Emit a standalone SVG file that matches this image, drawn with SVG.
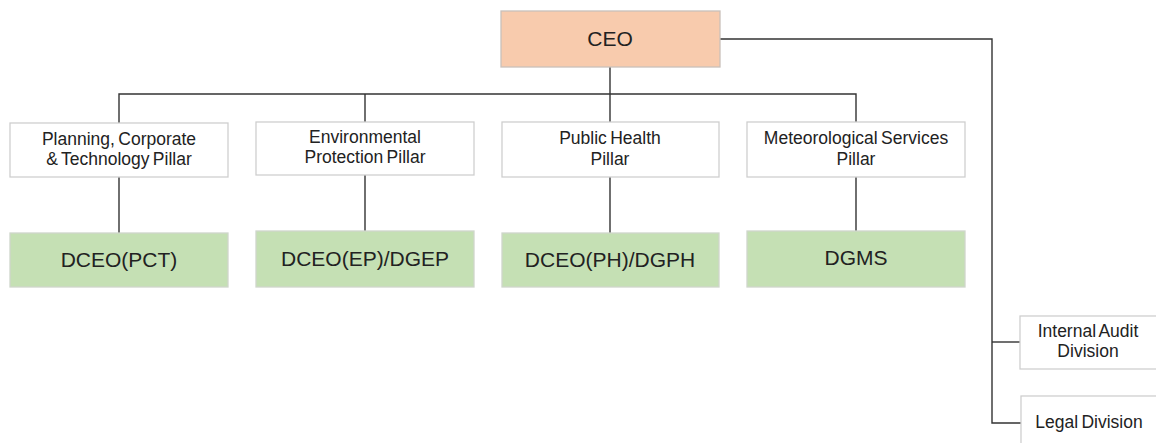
<svg xmlns="http://www.w3.org/2000/svg" width="1156" height="443" viewBox="0 0 1156 443">
  <style>
    .box { fill: #ffffff; stroke: #cfcfcf; stroke-width: 1.3; }
    .ceo { fill: #f8cbad; stroke: #c9c0ba; stroke-width: 1.3; }
    .dep { fill: #c5e0b4; stroke: #cfd6cb; stroke-width: 1.3; }
    .t { font-family: "Liberation Sans", Arial, sans-serif; fill: #222222; text-anchor: middle; }
    .sm { font-size: 17.5px; word-spacing: -1.5px; }
    .lg { font-size: 21px; }
    .wire { fill: none; stroke: #333333; stroke-width: 1.4; }
  </style>

  <!-- connectors -->
  <g id="connectors" class="wire">
    <path d="M610 67 V122"/>
    <path d="M119 123 V94 H856 V122"/>
    <path d="M365 94 V122"/>
    <path d="M119 177 V233"/>
    <path d="M365 175 V231"/>
    <path d="M610 177 V233"/>
    <path d="M856 177 V231"/>
    <path d="M720 39 H992 V423 H1021"/>
    <path d="M992 342 H1020"/>
  </g>

  <g id="ceo">
    <rect class="ceo" x="501" y="11" width="219" height="56"/>
    <text class="t lg" x="610" y="46">CEO</text>
  </g>

  <g id="pillar-pct">
    <rect class="box" x="10" y="123" width="218" height="54"/>
    <text class="t sm" x="119" y="145">Planning, Corporate</text>
    <text class="t sm" x="119" y="165">&amp; Technology Pillar</text>
  </g>
  <g id="pillar-ep">
    <rect class="box" x="256" y="122" width="218" height="53"/>
    <text class="t sm" x="365" y="143">Environmental</text>
    <text class="t sm" x="365" y="163">Protection Pillar</text>
  </g>
  <g id="pillar-ph">
    <rect class="box" x="502" y="122" width="217" height="55"/>
    <text class="t sm" x="610" y="144">Public Health</text>
    <text class="t sm" x="610" y="165">Pillar</text>
  </g>
  <g id="pillar-ms">
    <rect class="box" x="747" y="122" width="218" height="55"/>
    <text class="t sm" x="856" y="144">Meteorological Services</text>
    <text class="t sm" x="856" y="165">Pillar</text>
  </g>

  <g id="dceo-pct">
    <rect class="dep" x="10" y="233" width="218" height="54"/>
    <text class="t lg" x="119" y="267">DCEO(PCT)</text>
  </g>
  <g id="dceo-ep">
    <rect class="dep" x="256" y="231" width="218" height="56"/>
    <text class="t lg" x="365" y="266">DCEO(EP)/DGEP</text>
  </g>
  <g id="dceo-ph">
    <rect class="dep" x="502" y="233" width="217" height="54"/>
    <text class="t lg" x="610" y="267">DCEO(PH)/DGPH</text>
  </g>
  <g id="dgms">
    <rect class="dep" x="747" y="231" width="218" height="56"/>
    <text class="t lg" x="856" y="265">DGMS</text>
  </g>

  <g id="internal-audit">
    <rect class="box" x="1020" y="316" width="150" height="53"/>
    <text class="t sm" x="1088" y="337">Internal Audit</text>
    <text class="t sm" x="1088" y="357">Division</text>
  </g>
  <g id="legal">
    <rect class="box" x="1021" y="396" width="150" height="60"/>
    <text class="t sm" x="1089" y="428">Legal Division</text>
  </g>
</svg>
